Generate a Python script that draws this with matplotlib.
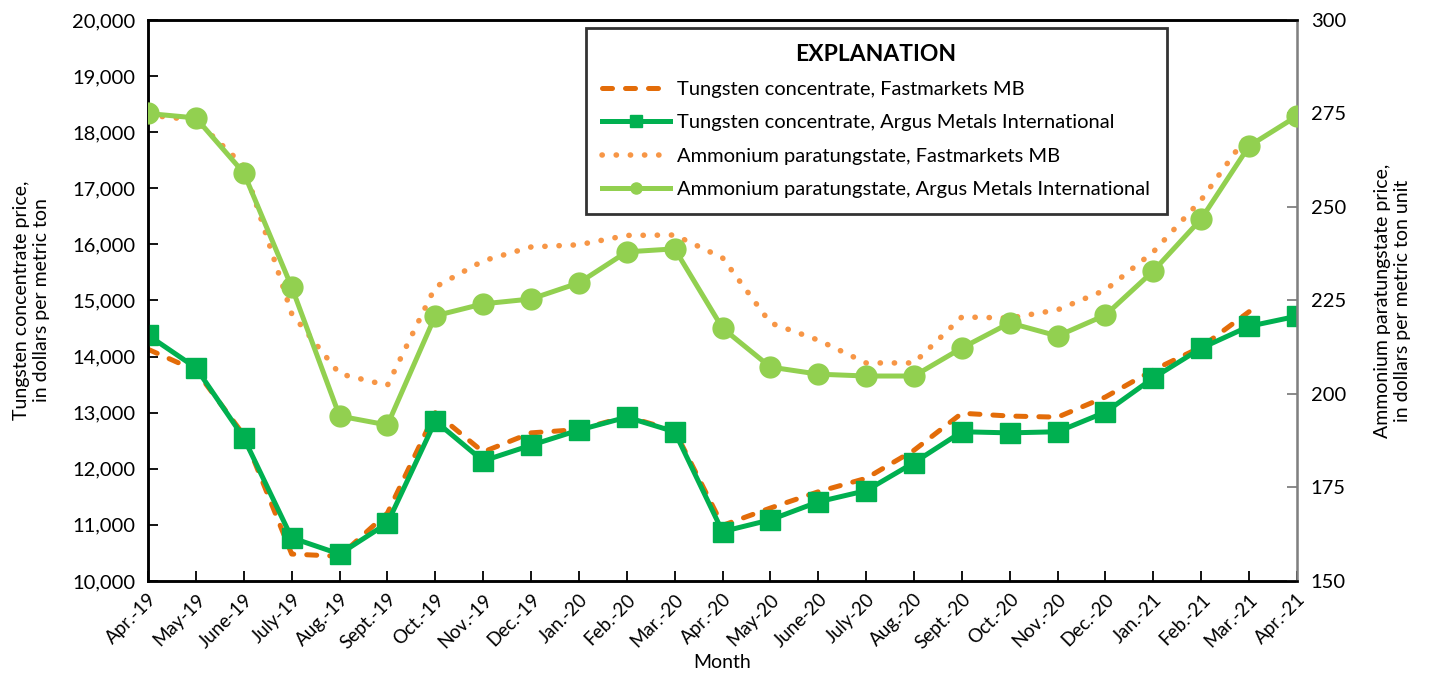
import matplotlib
matplotlib.use('Agg')
import matplotlib.pyplot as plt
from matplotlib.lines import Line2D

plt.rcParams['font.family'] = ['Lato', 'DejaVu Sans']

months = ['Apr.-19', 'May-19', 'June-19', 'July-19', 'Aug.-19', 'Sept.-19', 'Oct.-19',
          'Nov.-19', 'Dec.-19', 'Jan.-20', 'Feb.-20', 'Mar.-20', 'Apr.-20', 'May-20',
          'June-20', 'July-20', 'Aug.-20', 'Sept.-20', 'Oct.-20', 'Nov.-20', 'Dec.-20',
          'Jan.-21', 'Feb.-21', 'Mar.-21', 'Apr.-21']

# tungsten concentrate, $/t (left axis); Fastmarkets has no Apr-21 value
conc_fastmarkets = [14130, 13750, 12600, 10480, 10440, 11210, 13000, 12300, 12640, 12700,
                    12930, 12680, 10990, 11300, 11590, 11830, 12330, 12990, 12940, 12920,
                    13280, 13760, 14170, 14800, None]
conc_argus = [14380, 13800, 12550, 10770, 10480, 11030, 12850, 12140, 12420, 12690,
              12920, 12660, 10880, 11090, 11410, 11610, 12110, 12660, 12640, 12660,
              13010, 13620, 14150, 14540, 14720]

# ammonium paratungstate, $/mtu (right axis)
apt_fastmarkets = [274.6, 273.2, 261.0, 221.5, 205.4, 202.3, 228.6, 235.6, 239.3, 239.9,
                   242.4, 242.5, 236.4, 219.0, 214.4, 208.3, 208.3, 220.6, 220.3, 222.5,
                   227.8, 238.0, 251.9, 269.8, None]
apt_argus = [275.0, 273.8, 259.1, 228.6, 194.1, 191.7, 220.9, 224.1, 225.4, 229.7,
             238.0, 238.8, 217.6, 207.2, 205.3, 204.8, 204.8, 212.3, 219.0, 215.5,
             221.1, 232.9, 246.8, 266.3, 274.3]

labels = ['Tungsten concentrate, Fastmarkets MB',
          'Tungsten concentrate, Argus Metals International',
          'Ammonium paratungstate, Fastmarkets MB',
          'Ammonium paratungstate, Argus Metals International']

orange = '#E36C09'
lt_orange = '#F79646'
green = '#00B050'
lt_green = '#92D050'
dash_style = (0, (2.0, 2.6))
dot_style = (0, (0.05, 2.5))

x = list(range(len(months)))
cf = [(i, v) for i, v in zip(x, conc_fastmarkets) if v is not None]
af = [(i, v) for i, v in zip(x, apt_fastmarkets) if v is not None]

fig = plt.figure(figsize=(14.32, 6.75), dpi=100)
ax = fig.add_axes([0.1034, 0.1393, 0.8023, 0.8311])
ax2 = ax.twinx()

ax.plot([p[0] for p in cf], [p[1] for p in cf], color=orange, lw=3.6,
        linestyle=dash_style, dash_capstyle='round', zorder=2)
ax.plot(x, conc_argus, color=green, lw=3.6, marker='s', ms=14, zorder=3)
ax2.plot([p[0] for p in af], [p[1] for p in af], color=lt_orange, lw=4.0,
         linestyle=dot_style, dash_capstyle='round', zorder=2)
ax2.plot(x, apt_argus, color=lt_green, lw=3.6, marker='o', ms=15, zorder=3)

ax.set_xlim(0, len(months) - 1)
ax.set_ylim(10000, 20000)
ax.set_yticks(range(10000, 20001, 1000))
ax.set_yticklabels([f'{v:,}' for v in range(10000, 20001, 1000)], fontsize=14.5)
ax2.set_ylim(150, 300)
ax2.set_yticks(range(150, 301, 25))
ax2.set_yticklabels([str(v) for v in range(150, 301, 25)], fontsize=14.5)

ax.set_xticks(x)
ax.set_xticklabels(months, rotation=45, ha='right', rotation_mode='anchor', fontsize=13.5)
ax.tick_params(axis='x', direction='in', length=7, width=1.3, pad=7)
ax.tick_params(axis='y', direction='in', length=7, width=1.3, pad=9)
ax2.tick_params(axis='y', direction='in', length=7, width=1.3, color='#808080', pad=10)

for s in ['left', 'bottom', 'top']:
    ax.spines[s].set_linewidth(1.8)
    ax2.spines[s].set_linewidth(1.8)
ax2.spines['right'].set_color('#808080')
ax2.spines['right'].set_linewidth(1.8)

ax.set_xlabel('Month', fontsize=14, labelpad=1)
ax.set_ylabel('Tungsten concentrate price,\nin dollars per metric ton', fontsize=14, labelpad=16)
ax2.set_ylabel('Ammonium paratungstate price,\nin dollars per metric ton unit', fontsize=14, labelpad=20)

handles = [
    Line2D([], [], color=orange, lw=3.6, linestyle=dash_style, dash_capstyle='round'),
    Line2D([], [], color=green, lw=3.6, marker='s', ms=8),
    Line2D([], [], color=lt_orange, lw=4.0, linestyle=dot_style, dash_capstyle='round'),
    Line2D([], [], color=lt_green, lw=3.6, marker='o', ms=8),
]
leg = ax2.legend(handles, labels, loc='upper left', bbox_to_anchor=(0.381, 0.986),
                 title='EXPLANATION', title_fontproperties={'weight': 'bold', 'size': 16.5},
                 fontsize=14.5, frameon=True, fancybox=False, edgecolor='black',
                 handlelength=3.4, handletextpad=0.35, labelspacing=0.8, borderpad=0.8,
                 borderaxespad=0)
leg.get_frame().set_linewidth(2.0)

fig.savefig('out.png', dpi=100)
